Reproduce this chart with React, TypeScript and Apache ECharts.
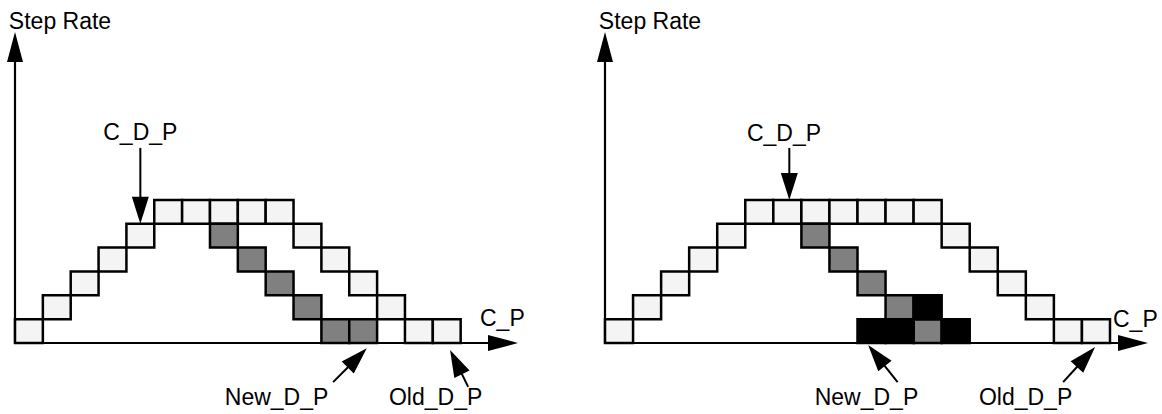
import { useEffect, useRef } from 'react';
import * as echarts from 'echarts';

const FONT = '"Liberation Sans", Arial, Helvetica, sans-serif';

// ---- axis titles ----
const yAxisTitle = 'Step Rate';
const xAxisTitle = 'C_P';

// ---- left panel cells (column index -> row) ----
const leftLightRows = [0, 1, 2, 3, 4, 5, 5, 5, 5, 5, 4, 3, 2, 1, 0, 0];
const leftGrayCols = [7, 8, 9, 10, 11, 12];
const leftGrayRows = [4, 3, 2, 1, 0, 0];

// ---- right panel cells ----
const rightLightRows = [0, 1, 2, 3, 4, 5, 5, 5, 5, 5, 5, 5, 4, 3, 2, 1, 0, 0];
const rightGrayCols = [7, 8, 9, 10, 11];
const rightGrayRows = [4, 3, 2, 1, 0];
const rightBlackCols = [9, 10, 11, 12];
const rightBlackRows = [0, 0, 1, 0];

// ---- annotations (data units of each panel) ----
const annotationNames = ['C_D_P', 'New_D_P', 'Old_D_P'];
const leftArrowFromX = [4.5, 11.42, 16.27];
const leftArrowFromY = [8.18, -1.64, -1.84];
const leftArrowToX = [4.5, 12.63, 15.62];
const leftArrowToY = [5, -0.22, -0.29];
const leftLabelX = [4.5, 9.39, 15.1];
const leftLabelY = [8.85, -2.26, -2.26];

const rightArrowFromX = [6.57, 10.43, 16.33];
const rightArrowFromY = [8.18, -1.64, -1.64];
const rightArrowToX = [6.57, 9.38, 17.47];
const rightArrowToY = [6, -0.08, -0.17];
const rightLabelX = [6.38, 9.32, 14.99];
const rightLabelY = [8.81, -2.26, -2.26];

// ---- axis extents ----
const leftXMax = 17.52;
const rightXMax = 18.82;
const yMax = 12.41;

const LIGHT = '#f4f4f4';
const GRAY = '#808080';
const BLACK = '#000000';

function cellSeries(name: string, gridIndex: number, cols: number[], rows: number[], fill: string) {
  return {
    type: 'custom',
    name,
    xAxisIndex: gridIndex,
    yAxisIndex: gridIndex,
    clip: false,
    data: cols.map((c, i) => [c, rows[i]]),
    renderItem: (_params: any, api: any) => {
      const x = api.value(0);
      const y = api.value(1);
      const p0 = api.coord([x, y + 1]);
      const p1 = api.coord([x + 1, y]);
      return {
        type: 'rect',
        shape: { x: p0[0], y: p0[1], width: p1[0] - p0[0], height: p1[1] - p0[1] },
        style: { fill, stroke: '#000', lineWidth: 2.5 },
      };
    },
  };
}

function annotationSeries(
  gridIndex: number,
  fx: number[], fy: number[], tx: number[], ty: number[], lx: number[], ly: number[]
) {
  return {
    type: 'custom',
    name: 'annotations' + gridIndex,
    xAxisIndex: gridIndex,
    yAxisIndex: gridIndex,
    clip: false,
    z: 10,
    data: annotationNames.map((_n, i) => [fx[i], fy[i], tx[i], ty[i], lx[i], ly[i]]),
    renderItem: (params: any, api: any) => {
      const p0 = api.coord([api.value(0), api.value(1)]);
      const p1 = api.coord([api.value(2), api.value(3)]);
      const lp = api.coord([api.value(4), api.value(5)]);
      const dx = p1[0] - p0[0];
      const dy = p1[1] - p0[1];
      const len = Math.hypot(dx, dy) || 1;
      const ux = dx / len;
      const uy = dy / len;
      const headLen = 27;
      const headW = 17;
      const bx = p1[0] - ux * headLen;
      const by = p1[1] - uy * headLen;
      const left = [bx - uy * headW / 2, by + ux * headW / 2];
      const right = [bx + uy * headW / 2, by - ux * headW / 2];
      return {
        type: 'group',
        children: [
          {
            type: 'line',
            shape: { x1: p0[0], y1: p0[1], x2: bx + ux * 2, y2: by + uy * 2 },
            style: { stroke: '#000', lineWidth: 2 },
          },
          {
            type: 'polygon',
            shape: { points: [p1, left, right] },
            style: { fill: '#000' },
          },
          {
            type: 'text',
            x: lp[0],
            y: lp[1],
            style: {
              text: annotationNames[params.dataIndex],
              fill: '#000',
              fontSize: 23,
              fontFamily: FONT,
              align: 'center',
              textAlign: 'center',
              verticalAlign: 'middle',
              textVerticalAlign: 'middle',
            },
          },
        ],
      };
    },
  };
}

function xAxisFor(gridIndex: number, max: number, gap: number, padBottom: number) {
  return {
    type: 'value',
    gridIndex,
    min: 0,
    max,
    axisLine: {
      show: true,
      onZero: false,
      symbol: ['none', 'triangle'],
      symbolSize: [16, 30],
      lineStyle: { color: '#000', width: 2.2 },
    },
    axisTick: { show: false },
    axisLabel: { show: false },
    splitLine: { show: false },
    name: xAxisTitle,
    nameLocation: 'end',
    nameGap: gap,
    nameTextStyle: {
      color: '#000',
      fontSize: 23,
      fontFamily: FONT,
      lineHeight: 23,
      align: 'left',
      verticalAlign: 'bottom',
      padding: [0, 0, padBottom, 0],
    },
  };
}

function yAxisFor(gridIndex: number) {
  return {
    type: 'value',
    gridIndex,
    min: 0,
    max: yMax,
    axisLine: {
      show: true,
      onZero: false,
      symbol: ['none', 'triangle'],
      symbolSize: [16, 30],
      lineStyle: { color: '#000', width: 2.2 },
    },
    axisTick: { show: false },
    axisLabel: { show: false },
    splitLine: { show: false },
    name: yAxisTitle,
    nameLocation: 'end',
    nameGap: 15,
    nameTextStyle: {
      color: '#000',
      fontSize: 23,
      fontFamily: FONT,
      lineHeight: 23,
      align: 'center',
      verticalAlign: 'bottom',
      padding: [0, 0, 0, 90],
    },
  };
}

export default function App() {
  const ref = useRef<HTMLDivElement>(null);

  useEffect(() => {
    document.body.style.margin = '0';
    if (!ref.current) return;
    const chart = echarts.init(ref.current, null, { renderer: 'svg' });
    chart.setOption({
      animation: false,
      backgroundColor: '#ffffff',
      grid: [
        { left: 15, top: 47, width: 488, height: 296, outerBoundsMode: 'none' },
        { left: 605, top: 47, width: 528, height: 296, outerBoundsMode: 'none' },
      ],
      xAxis: [xAxisFor(0, leftXMax, -23, 14), xAxisFor(1, rightXMax, -20, 13)],
      yAxis: [yAxisFor(0), yAxisFor(1)],
      series: [
        cellSeries('left-envelope', 0, leftLightRows.map((_r, i) => i), leftLightRows, LIGHT),
        cellSeries('left-new', 0, leftGrayCols, leftGrayRows, GRAY),
        annotationSeries(0, leftArrowFromX, leftArrowFromY, leftArrowToX, leftArrowToY, leftLabelX, leftLabelY),
        cellSeries('right-envelope', 1, rightLightRows.map((_r, i) => i), rightLightRows, LIGHT),
        cellSeries('right-new', 1, rightGrayCols, rightGrayRows, GRAY),
        cellSeries('right-black', 1, rightBlackCols, rightBlackRows, BLACK),
        annotationSeries(1, rightArrowFromX, rightArrowFromY, rightArrowToX, rightArrowToY, rightLabelX, rightLabelY),
      ],
    });
    return () => chart.dispose();
  }, []);

  return (
    <div
      ref={ref}
      style={{ position: 'absolute', left: 0, top: 0, width: 1162, height: 414 }}
    />
  );
}
